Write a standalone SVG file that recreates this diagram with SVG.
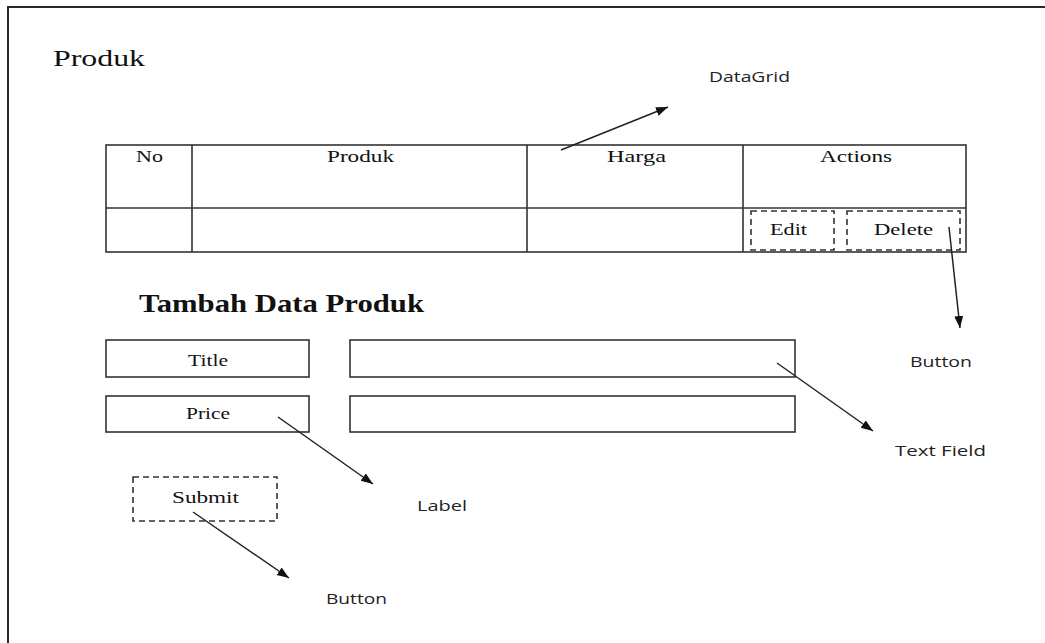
<svg xmlns="http://www.w3.org/2000/svg" width="1045" height="643" viewBox="0 0 1045 643">
<style>
.frame{fill:none;stroke:#2a2a2a;stroke-width:2}
.box{fill:none;stroke:#333;stroke-width:1.6}
.dash{fill:none;stroke:#333;stroke-width:1.6;stroke-dasharray:6 4}
.serif{font-family:"Liberation Serif","Times New Roman",serif;fill:#111;font-size:17px}
.sans{font-family:"Open Sans","Liberation Sans",Arial,sans-serif;fill:#222;font-size:14px}
.conn{fill:none;stroke:#222;stroke-width:1.5;marker-end:url(#ah)}
</style>
<defs>
<marker id="ah" markerUnits="userSpaceOnUse" markerWidth="13" markerHeight="10" refX="12" refY="4.5" orient="auto">
<path d="M0,0 L12,4.5 L0,9 z" fill="#111"/>
</marker>
</defs>
<rect width="1045" height="643" fill="#fff"/>
<path class="frame" d="M8,643 V7 H1045"/>

<g id="page-title">
<text class="serif" x="53" y="66" style="font-size:24px" textLength="92" lengthAdjust="spacingAndGlyphs">Produk</text>
</g>

<g id="datagrid">
<rect class="box" x="106" y="145" width="860" height="107"/>
<line class="box" x1="106" y1="208" x2="966" y2="208"/>
<line class="box" x1="192" y1="145" x2="192" y2="252"/>
<line class="box" x1="527" y1="145" x2="527" y2="252"/>
<line class="box" x1="743" y1="145" x2="743" y2="252"/>
<text class="serif" x="136" y="162" textLength="27" lengthAdjust="spacingAndGlyphs">No</text>
<text class="serif" x="327" y="162" textLength="67" lengthAdjust="spacingAndGlyphs">Produk</text>
<text class="serif" x="607" y="162" textLength="59" lengthAdjust="spacingAndGlyphs">Harga</text>
<text class="serif" x="820" y="162" textLength="72" lengthAdjust="spacingAndGlyphs">Actions</text>
</g>

<g id="btn-edit">
<rect class="dash" x="751" y="211" width="83" height="39"/>
<text class="serif" x="770" y="235" textLength="37" lengthAdjust="spacingAndGlyphs">Edit</text>
</g>

<g id="btn-delete">
<rect class="dash" x="847" y="211" width="113" height="39"/>
<text class="serif" x="874" y="235" textLength="59" lengthAdjust="spacingAndGlyphs">Delete</text>
</g>

<g id="form-heading">
<text class="serif" x="139" y="312" style="font-size:25px;font-weight:bold" textLength="285" lengthAdjust="spacingAndGlyphs">Tambah Data Produk</text>
</g>

<g id="label-title">
<rect class="box" x="106" y="340" width="203" height="37"/>
<text class="serif" x="188" y="366" textLength="40" lengthAdjust="spacingAndGlyphs">Title</text>
</g>

<g id="field-title">
<rect class="box" x="350" y="340" width="445" height="37"/>
</g>

<g id="label-price">
<rect class="box" x="106" y="396" width="203" height="36"/>
<text class="serif" x="186" y="419" textLength="44" lengthAdjust="spacingAndGlyphs">Price</text>
</g>

<g id="field-price">
<rect class="box" x="350" y="396" width="445" height="36"/>
</g>

<g id="btn-submit">
<rect class="dash" x="133" y="477" width="144" height="44"/>
<text class="serif" x="172" y="503" textLength="67" lengthAdjust="spacingAndGlyphs">Submit</text>
</g>

<g id="note-datagrid"><text class="sans" x="709" y="82" textLength="81" lengthAdjust="spacingAndGlyphs">DataGrid</text></g>
<g id="note-button-top"><text class="sans" x="910" y="367" textLength="62" lengthAdjust="spacingAndGlyphs">Button</text></g>
<g id="note-textfield"><text class="sans" x="895" y="456" textLength="91" lengthAdjust="spacingAndGlyphs">Text Field</text></g>
<g id="note-label"><text class="sans" x="417" y="511" textLength="50" lengthAdjust="spacingAndGlyphs">Label</text></g>
<g id="note-button-bottom"><text class="sans" x="326" y="604" textLength="61" lengthAdjust="spacingAndGlyphs">Button</text></g>

<g id="connectors">
<line class="conn" x1="561" y1="150" x2="668" y2="107"/>
<line class="conn" x1="949" y1="227" x2="960" y2="328"/>
<line class="conn" x1="777" y1="363" x2="873" y2="431"/>
<line class="conn" x1="278" y1="417" x2="373" y2="484"/>
<line class="conn" x1="193" y1="512" x2="289" y2="578"/>
</g>
</svg>
